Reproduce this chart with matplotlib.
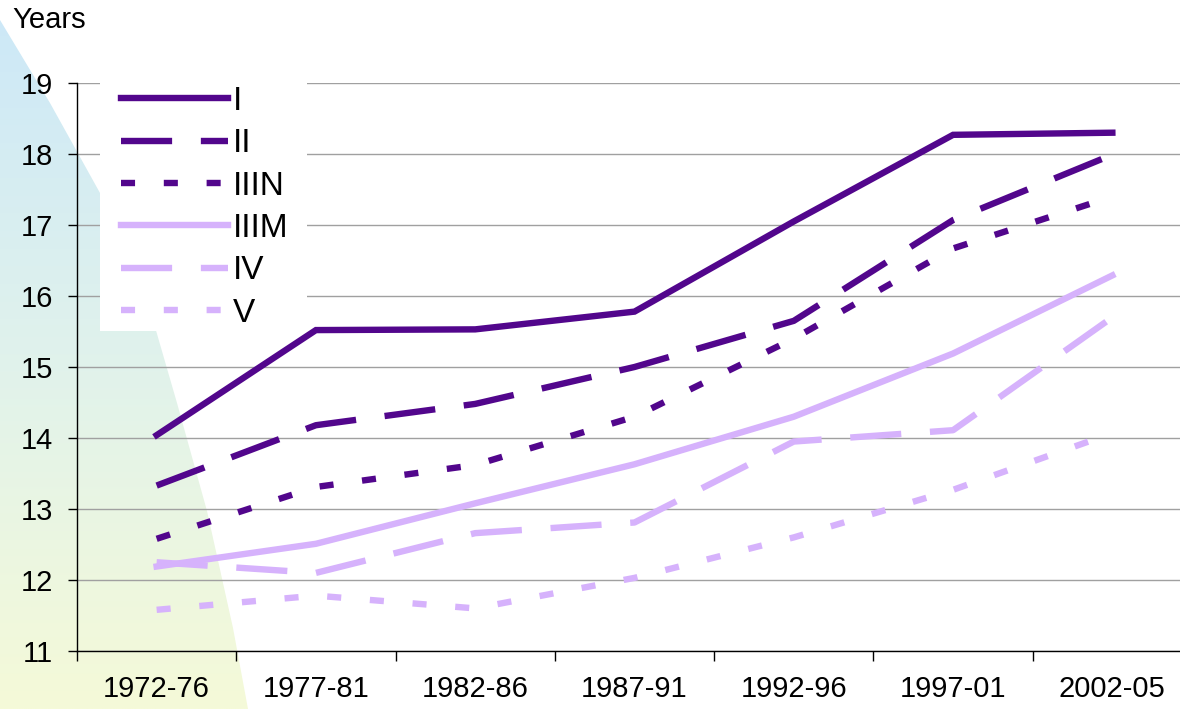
import numpy as np
import matplotlib
matplotlib.use("Agg")
import matplotlib.pyplot as plt
from matplotlib.patches import Polygon, Rectangle
from matplotlib.colors import LinearSegmentedColormap

plt.rcParams['font.family'] = ['Liberation Sans', 'DejaVu Sans']

# data
periods = ['1972-76', '1977-81', '1982-86', '1987-91', '1992-96', '1997-01', '2002-05']
class_I = [14.04, 15.52, 15.53, 15.78, 17.05, 18.27, 18.30]
class_II = [13.33, 14.18, 14.48, 15.00, 15.65, 17.07, 17.99]
class_IIIN = [12.58, 13.31, 13.62, 14.30, 15.40, 16.67, 17.40]
class_IIIM = [12.19, 12.51, 13.08, 13.63, 14.30, 15.19, 16.29]
class_IV = [12.25, 12.10, 12.66, 12.81, 13.95, 14.11, 15.70]
class_V = [11.58, 11.78, 11.60, 12.03, 12.60, 13.27, 14.07]
labels = ['I', 'II', 'IIIN', 'IIIM', 'IV', 'V']

DARK = '#52068C'
LIGHT = '#D6B2FC'
W, H = 1180, 709

fig = plt.figure(figsize=(W / 100, H / 100), dpi=100)

# background swoosh with a blue -> green -> yellow gradient
bg = fig.add_axes([0, 0, 1, 1], zorder=0)
bg.set_xlim(0, W)
bg.set_ylim(H, 0)
bg.axis('off')
edge = [(0, 20), (50, 103), (100, 193), (130, 262), (155, 327), (177, 403),
        (207, 511), (233, 628), (248, 709), (0, 709)]
clip = Polygon(edge, closed=True, transform=bg.transData, facecolor='none', edgecolor='none')
bg.add_patch(clip)
cmap = LinearSegmentedColormap.from_list('bg', ['#cce8f8', '#e0f2ec', '#f5fad8'])
grad = np.linspace(0, 1, 256).reshape(-1, 1)
im = bg.imshow(grad, cmap=cmap, extent=[0, 260, H, 0], aspect='auto')
im.set_clip_path(clip)

# main plot, right edge runs past the image like the original
left, right, top, bottom = 77, 1192, 83, 651
ax = fig.add_axes([left / W, 1 - bottom / H, (right - left) / W, (bottom - top) / H], zorder=1)
ax.patch.set_alpha(0)

x = np.arange(len(periods))
series = [class_I, class_II, class_IIIN, class_IIIM, class_IV, class_V]
colors = [DARK, DARK, DARK, LIGHT, LIGHT, LIGHT]
lw = 4.6
styles = ['-', (0, (8, 4.5)), (0, (2.2, 4.5)), '-', (0, (8, 4.5)), (0, (2.2, 4.5))]
for vals, c, ls, lab in zip(series, colors, styles, labels):
    ax.plot(x, vals, color=c, lw=lw, linestyle=ls, label=lab,
            solid_joinstyle='miter', zorder=3)

ax.set_xlim(-0.5, 6.5)
ax.set_ylim(11, 19)
ax.set_yticks(range(11, 20))
ax.set_xticks(np.arange(-0.5, 7, 1))
ax.set_xticklabels([])
ax.set_xticks(x, minor=True)
ax.set_xticklabels(periods, minor=True)
ax.tick_params(axis='x', which='major', length=7.2, width=1, direction='out')
ax.tick_params(axis='x', which='minor', length=0, pad=17, labelsize=21)
ax.tick_params(axis='y', length=6.5, width=1, pad=10.8, labelsize=21)
ax.grid(axis='y', color='#a0a0a0', lw=1)
ax.set_axisbelow(True)
for s in ['top', 'right']:
    ax.spines[s].set_visible(False)
ax.spines['left'].set_linewidth(1)
ax.spines['bottom'].set_linewidth(1)

# white legend panel
box = Rectangle((100 / W, 1 - 331 / H), 207 / W, 261 / H, transform=fig.transFigure,
                facecolor='white', edgecolor='none', zorder=2)
ax.add_artist(box)
box.set_clip_on(False)

leg = ax.legend(loc='upper left', bbox_to_anchor=(121 / W, 1 - 86 / H),
                bbox_transform=fig.transFigure, frameon=False, fontsize=24,
                handlelength=3.2, handletextpad=0.15, labelspacing=0.34,
                borderpad=0, borderaxespad=0)
leg.set_zorder(4)

fig.text(12 / W, 1 - 28 / H, 'Years', fontsize=21, va='baseline', ha='left')

fig.savefig('out.png', dpi=100)
